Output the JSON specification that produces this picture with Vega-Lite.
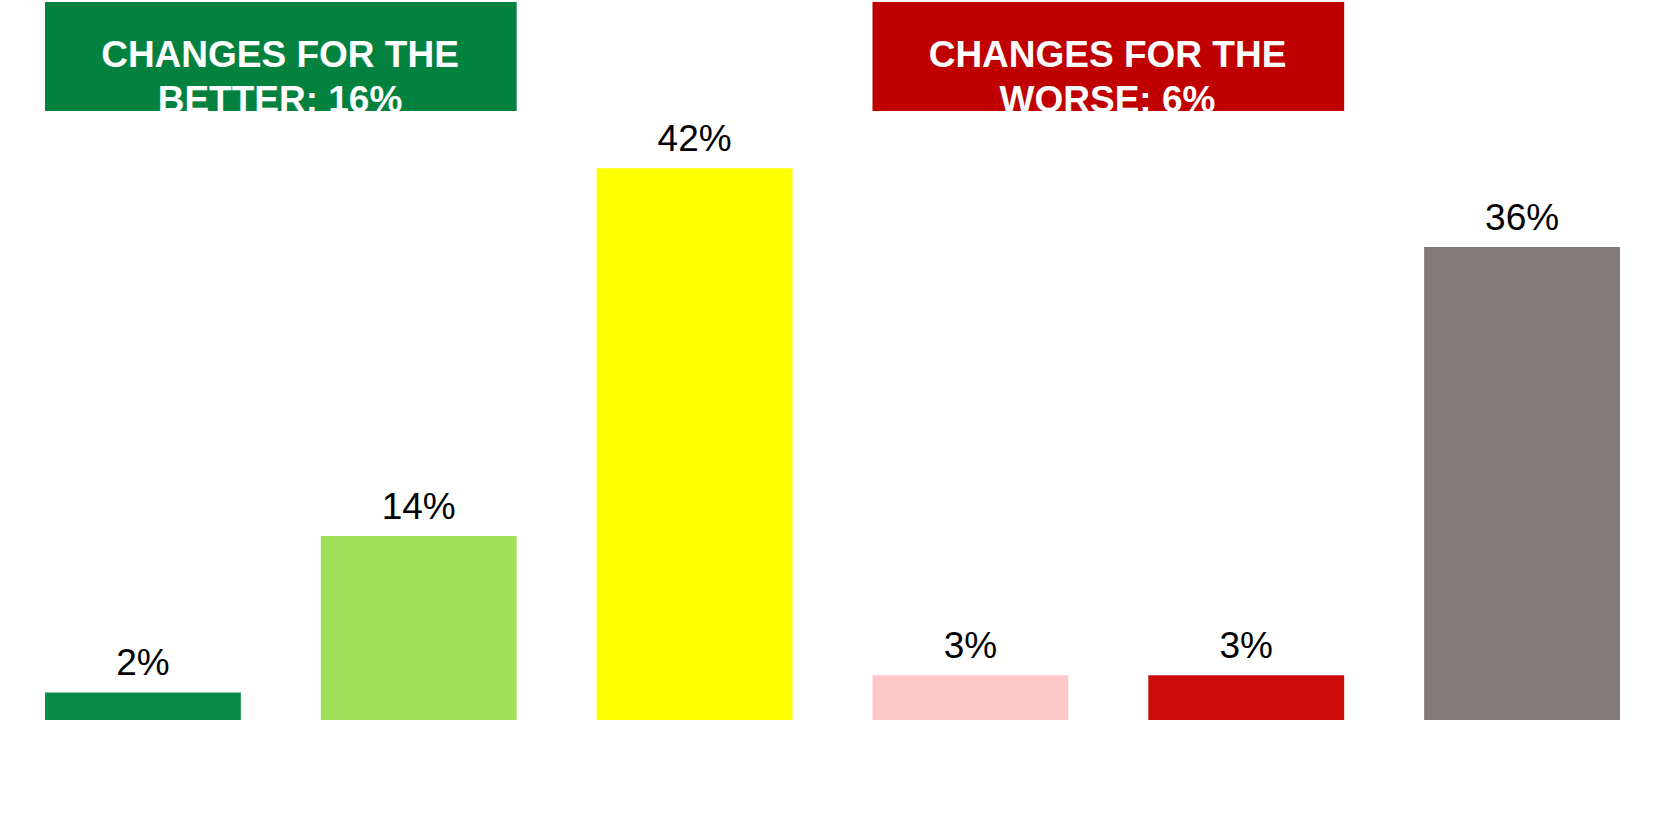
{
  "$schema": "https://vega.github.io/schema/vega-lite/v6.json",
  "width": 1655,
  "height": 720,
  "autosize": {"type": "none"},
  "padding": {"left": 5, "top": 0, "right": 0, "bottom": 105},
  "background": "white",
  "config": {"view": {"stroke": null}},
  "resolve": {"axis": {"x": "independent"}},
  "layer": [
    {
      "data": {"values": [
        {"cat": "Many changes for the better", "pct": 2.1, "lbl": "2%"},
        {"cat": "A few changes for the better", "pct": 14, "lbl": "14%"},
        {"cat": "No changes", "pct": 42, "lbl": "42%"},
        {"cat": "A few changes for the worse", "pct": 3.4, "lbl": "3%"},
        {"cat": "Many changes for the worse", "pct": 3.4, "lbl": "3%"},
        {"cat": "Unsure", "pct": 36, "lbl": "36%"}
      ]},
      "layer": [
        {
          "mark": {"type": "bar"},
          "encoding": {
            "x": {
              "field": "cat", "type": "nominal",
              "scale": {
                "domain": ["Many changes for the better", "A few changes for the better", "No changes", "A few changes for the worse", "Many changes for the worse", "Unsure"],
                "paddingInner": 0.29, "paddingOuter": 0.145
              },
              "axis": {
                "title": null, "labels": false, "domainColor": "#A6A6A6", "tickColor": "#A6A6A6",
                "tickSize": 11, "tickBand": "extent"
              }
            },
            "y": {"field": "pct", "type": "quantitative", "scale": {"domain": [0, 54.8], "nice": false}, "axis": null},
            "color": {
              "field": "cat", "type": "nominal", "legend": null,
              "scale": {
                "domain": ["Many changes for the better", "A few changes for the better", "No changes", "A few changes for the worse", "Many changes for the worse", "Unsure", "better", "worse"],
                "range": ["#098C46", "#A1DE5A", "#FFFF00", "#FFC8C8", "#CC0A0A", "#807A7A", "#03823F", "#C00000"]
              }
            }
          }
        },
        {
          "mark": {"type": "text", "dy": -17, "baseline": "alphabetic", "fontSize": 37, "font": "Liberation Sans", "color": "black"},
          "encoding": {
            "x": {
              "field": "cat", "type": "nominal",
              "axis": {
                "title": null, "labelAngle": 0, "domain": false, "ticks": false, "tickSize": 0,
                "labelFont": "Liberation Sans", "labelFontSize": 37, "labelColor": "black",
                "labelPadding": 10, "labelLineHeight": 40, "labelLimit": 0,
                "labelExpr": "indexof(datum.value,' for ')>0 ? [slice(datum.value,0,indexof(datum.value,' for ')), slice(datum.value,indexof(datum.value,' for ')+1)] : datum.value"
              }
            },
            "y": {"field": "pct", "type": "quantitative", "axis": null},
            "text": {"field": "lbl"}
          }
        }
      ]
    },
    {
      "data": {"values": [
        {"side": "better", "from": "Many changes for the better", "to": "A few changes for the better", "text": "CHANGES FOR THE\nBETTER: 16%"},
        {"side": "worse", "from": "A few changes for the worse", "to": "Many changes for the worse", "text": "CHANGES FOR THE\nWORSE: 6%"}
      ]},
      "layer": [
        {
          "mark": {"type": "rect"},
          "encoding": {
            "x": {"field": "from", "type": "nominal", "bandPosition": 0, "axis": null},
            "x2": {"field": "to", "bandPosition": 1},
            "y": {"datum": 54.65, "type": "quantitative", "axis": null},
            "y2": {"datum": 46.35},
            "color": {"field": "side", "type": "nominal", "legend": null}
          }
        },
        {
          "mark": {"type": "text", "lineBreak": "\n", "baseline": "middle", "align": "center", "fontSize": 37, "fontWeight": "bold", "font": "Liberation Sans", "color": "white", "lineHeight": 45},
          "encoding": {
            "x": {"field": "from", "type": "nominal", "bandPosition": 1.2, "axis": null},
            "y": {"datum": 50.54, "type": "quantitative", "axis": null},
            "text": {"field": "text"}
          }
        }
      ]
    }
  ]
}
